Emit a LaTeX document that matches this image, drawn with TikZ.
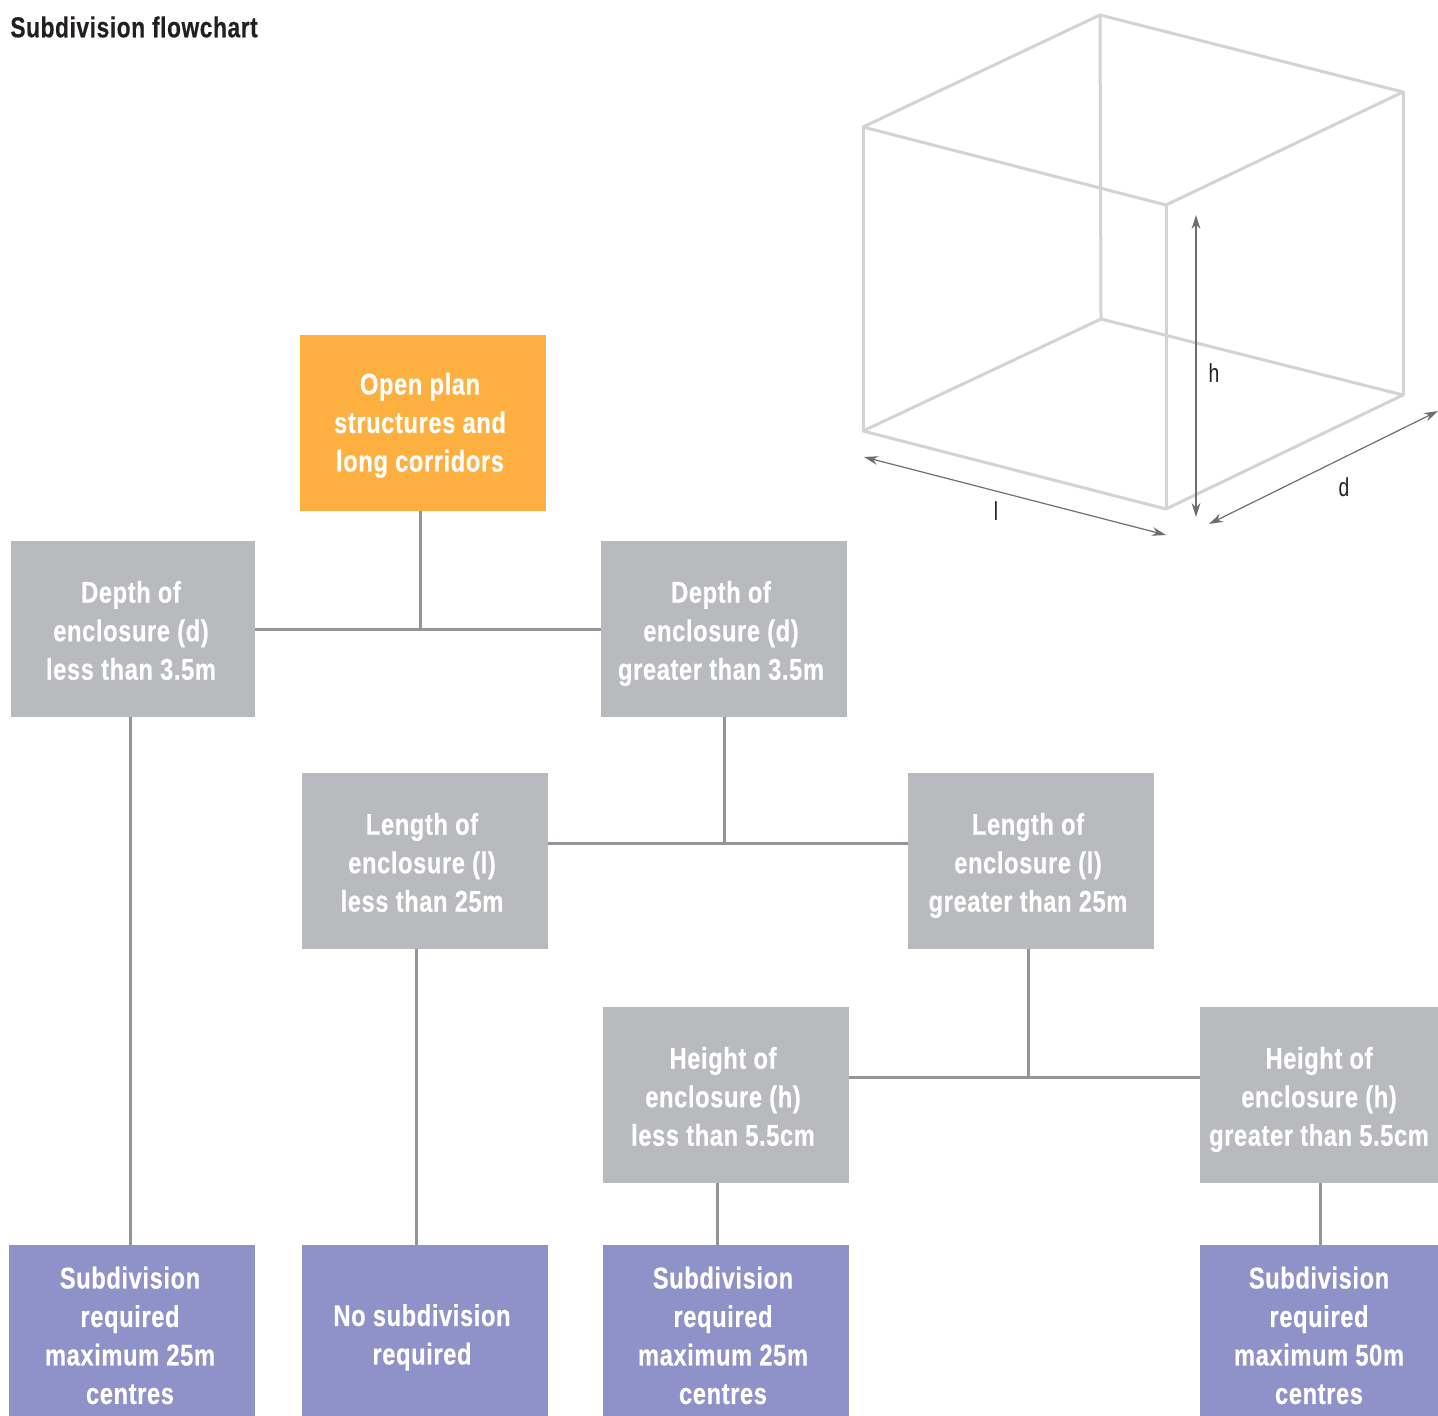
\documentclass[tikz,border=0pt]{standalone}
\usepackage{fontspec}
\setmainfont[FakeStretch=0.74,BoldFeatures={FakeStretch=0.79,LetterSpace=2,FakeBold=0.4}]{Liberation Sans}
\usetikzlibrary{arrows.meta}

\definecolor{boxorange}{HTML}{FDB03F}
\definecolor{boxgrey}{HTML}{B9BABD}
\definecolor{boxpurple}{HTML}{8E92C8}
\definecolor{linkgrey}{HTML}{939598}
\definecolor{cubegrey}{HTML}{D1D3D4}
\definecolor{dimgrey}{HTML}{6D6E71}
\definecolor{titleblack}{HTML}{231F20}

% box text: optional room on the right, then room above the lines
\newcommand{\boxlines}[3][3pt]{\vbox{\vskip #2\hbox{\begin{tabular}{@{}c@{\hskip #1}}#3\end{tabular}}}}

\tikzset{
    flowbox/.style={inner sep=0pt, minimum width=123pt, minimum height=88pt, text=white,
        font=\fontsize{15}{19.25}\selectfont\bfseries},
    greybox/.style={flowbox, fill=boxgrey},
    resultbox/.style={flowbox, fill=boxpurple, minimum height=85.5pt},
    link/.style={linkgrey, line width=1.5pt},
    cubeedge/.style={cubegrey, line width=1.5pt, line join=round},
    dimline/.style={dimgrey, line width=0.6pt, {Stealth[length=7pt,width=4.4pt]}-{Stealth[length=7pt,width=4.4pt]}},
    dimlabel/.style={inner sep=0pt, text=titleblack, font=\fontsize{13}{15}\selectfont}
}

\begin{document}
\begin{tikzpicture}[x=0.5pt,y=-0.5pt]
        \useasboundingbox (0,0) rectangle (1438,1416);

        \node[anchor=west, inner sep=0pt, text=titleblack, font=\fontsize{14.4}{18}\selectfont\bfseries] (title) at (10,27) {Subdivision flowchart};

        % the cube
        \coordinate (bt) at (1100,15);
        \coordinate (rt) at (1403,92);
        \coordinate (ft) at (1166,205);
        \coordinate (lt) at (863,127);
        \coordinate (bb) at (1101,319);
        \coordinate (rb) at (1403,395);
        \coordinate (fb) at (1166,509);
        \coordinate (lb) at (863,431);
        \draw[cubeedge] (bt) -- (rt) -- (ft) -- (lt) -- cycle;
        \draw[cubeedge] (bb) -- (rb) -- (fb) -- (lb) -- cycle;
        \foreach \k in {b,r,f,l}
        {
            \draw[cubeedge] (\k t) -- (\k b);
        }

        \coordinate (hTop) at (1196,215);
        \coordinate (hEnd) at (1196,517);
        \coordinate (lStart) at (864,457);
        \coordinate (lEnd) at (1166,535);
        \coordinate (dStart) at (1209,524);
        \coordinate (dEnd) at (1438,411);
        \draw[dimline] (hTop) -- (hEnd);
        \draw[dimline] (lStart) -- (lEnd);
        \draw[dimline] (dStart) -- (dEnd);
        \node[dimlabel] (hlabel) at (1214,373) {h};
        \node[dimlabel] (llabel) at (996,511) {l};
        \node[dimlabel] (dlabel) at (1344,487) {d};

        % the boxes
        \node[flowbox, fill=boxorange] (open) at (423,423) {\boxlines{2.3pt}{Open plan\\structures and\\long corridors}};
        \node[greybox, minimum width=122pt] (dless) at (133,629) {\boxlines[2pt]{4.5pt}{Depth of\\enclosure (d)\\less than 3.5m}};
        \node[greybox] (dmore) at (724,629) {\boxlines{4.5pt}{Depth of\\enclosure (d)\\greater than 3.5m}};
        \node[greybox] (lless) at (425,861) {\boxlines{4.5pt}{Length of\\enclosure (l)\\less than 25m}};
        \node[greybox] (lmore) at (1031,861) {\boxlines{4.5pt}{Length of\\enclosure (l)\\greater than 25m}};
        \node[greybox] (hless) at (726,1095) {\boxlines{4.5pt}{Height of\\enclosure (h)\\less than 5.5cm}};
        \node[greybox, minimum width=119pt] (hmore) at (1319,1095) {\boxlines[0pt]{4.5pt}{Height of\\enclosure (h)\\greater than 5.5cm}};

        \node[resultbox] (rone) at (132,1330.5) {\boxlines[2pt]{8pt}{Subdivision\\required\\maximum 25m\\centres}};
        \node[resultbox] (rtwo) at (425,1330.5) {\boxlines{7pt}{No subdivision\\required}};
        \node[resultbox] (rthree) at (726,1330.5) {\boxlines{8pt}{Subdivision\\required\\maximum 25m\\centres}};
        \node[resultbox, minimum width=119pt] (rfour) at (1319,1330.5) {\boxlines[0pt]{8pt}{Subdivision\\required\\maximum 50m\\centres}};

        % the connectors
        \coordinate (jone) at (420,629);
        \coordinate (jtwo) at (724,843);
        \coordinate (jthree) at (1028,1077);
        \coordinate (downa) at (130,1000);
        \coordinate (downb) at (416,1000);
        \coordinate (downc) at (717,1200);
        \coordinate (downd) at (1320,1200);

        \draw[link] (dless) -- (dmore);
        \draw[link] (open.south -| jone) -- (jone);
        \draw[link] (lless.east |- jtwo) -- (lmore.west |- jtwo);
        \draw[link] (dmore.south) -- (jtwo);
        \draw[link] (hless.east |- jthree) -- (hmore.west |- jthree);
        \draw[link] (lmore.south -| jthree) -- (jthree);
        \draw[link] (dless.south -| downa) -- (rone.north -| downa);
        \draw[link] (lless.south -| downb) -- (rtwo.north -| downb);
        \draw[link] (hless.south -| downc) -- (rthree.north -| downc);
        \draw[link] (hmore.south -| downd) -- (rfour.north -| downd);
    \end{tikzpicture}
\end{document}
